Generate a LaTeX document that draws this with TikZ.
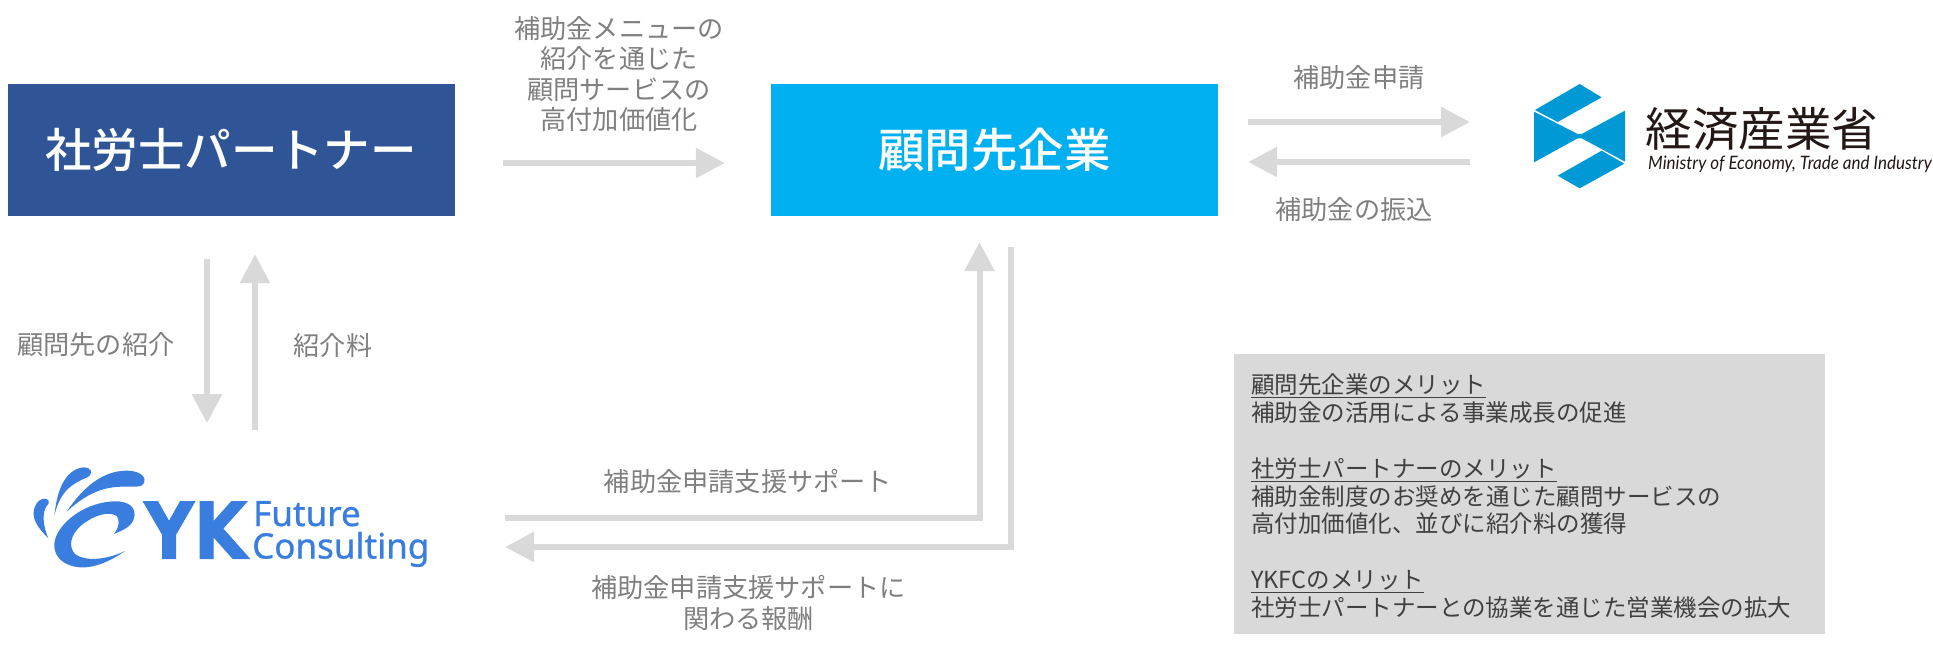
\documentclass[tikz,border=0pt]{standalone}
\usepackage{fontspec}
\setmainfont{Noto Sans CJK JP}
\newfontfamily\partyfont[UprightFont=* Medium]{Noto Sans CJK JP}
\newfontfamily\ykfont[FakeBold=.8]{Noto Sans}
\newfontfamily\ykheavy[UprightFont=* Bold,FakeBold=1.5,FakeStretch=.88]{DejaVu Sans}
\newfontfamily\metifont[FakeStretch=.92]{Lato}
\usetikzlibrary{calc,arrows.meta}
\definecolor{partnerblue}{HTML}{2F5597}
\definecolor{clientblue}{HTML}{00B0F0}
\definecolor{flowgray}{HTML}{D9D9D9}
\definecolor{labelgray}{HTML}{7F7F7F}
\definecolor{ykblue}{HTML}{397DDE}
\definecolor{metiblue}{HTML}{0099D6}
\definecolor{metiblack}{HTML}{231815}
\tikzstyle{party}=[rectangle, minimum width=447pt, minimum height=132pt, inner sep=0pt, text=white, font=\partyfont\fontsize{46.5}{50}\selectfont]
\tikzstyle{note}=[text=labelgray, align=center, inner sep=0pt, font=\fontsize{26.2}{30.5}\selectfont]
\tikzstyle{flow}=[draw=flowgray, line width=6pt, -{Triangle[length=29pt,width=29pt]}]
\tikzstyle{meritbox}=[rectangle, fill=flowgray, minimum width=591pt, minimum height=280pt, inner sep=0pt, anchor=north west]
\tikzstyle{merit}=[text=black!75, inner sep=0pt, text width=557pt, align=left, anchor=west, font=\fontsize{23.5}{27.8}\selectfont]
\newcommand{\headline}[1]{\leavevmode\setbox0\hbox{#1}\rlap{\rule[-4.5pt]{\wd0}{1.3pt}}\box0}
\begin{document}
\begin{tikzpicture}[x=1pt,y=-1pt]
    \useasboundingbox (0,0) rectangle (1933,652);
    \node[party, fill=partnerblue] (partner) at (231,150) {社労士パートナー};
    \node[party, fill=clientblue] (client) at (994.5,150) {顧問先企業};
    \coordinate (metiport) at (1470,142);
    \coordinate (ykport) at (505,532);
    \node[note] (upgrade) at (619,74) {補助金メニューの\\紹介を通じた\\顧問サービスの\\高付加価値化};
    \node[note] (apply) at (1359,78) {補助金申請};
    \node[note] (payment) at (1354,210) {補助金の振込};
    \node[note] (refer) at (96,345) {顧問先の紹介};
    \node[note] (fee) at (333,346) {紹介料};
    \node[note] (support) at (748,481) {補助金申請支援サポート};
    \node[note] (reward) at (748.5,603) {補助金申請支援サポートに\\関わる報酬};
    \draw[flow] ($(partner.east)+(48,13)$) -- ($(client.west)+(-46,13)$);
    \draw[flow] ($(client.east)+(30,-28)$) -- ($(metiport)+(0,-20)$);
    \draw[flow] ($(metiport)+(0,20)$) -- ($(client.east)+(30,12)$);
    \draw[flow] ($(partner.south)+(-24,43)$) -- ($(partner.south)+(-24,207)$);
    \draw[flow] ($(partner.south)+(24,214)$) -- ($(partner.south)+(24,38)$);
    \draw[flow] ($(ykport)+(0,-14)$) -| ($(client.south)+(-15,26)$);
    \draw[flow] ($(client.south)+(16,31)$) |- ($(ykport)+(0,15)$);
    \node[meritbox] (benefit) at (1234,354) {};
    \node[merit] (benefits) at ($(benefit.west)+(17,2)$) {\headline{顧問先企業のメリット}\\補助金の活用による事業成長の促進\\[27.8pt]\headline{社労士パートナーのメリット}\\補助金制度のお奨めを通じた顧問サービスの\\高付加価値化、並びに紹介料の獲得\\[27.8pt]\headline{YKFCのメリット}\\社労士パートナーとの協業を通じた営業機会の拡大};
    % meti mark
    \begin{scope}[shift={(1480,60)},scale=1/3]
        \fill[metiblue] (165,150) -- (299,72) -- (365,112) -- (233,186) -- cycle;
        \fill[metiblue] (162,155) -- (293,222) -- (305,222) -- (435,152) -- (435,305) -- (305,235) -- (293,235) -- (162,307) -- cycle;
        \fill[metiblue] (233,347) -- (365,272) -- (433,311) -- (299,385) -- cycle;
    \end{scope}
    \node[inner sep=0pt, text=metiblack, font=\fontsize{46.5}{50}\selectfont] (meti) at (1762,129) {経済産業省};
    \node[inner sep=0pt, text=metiblack, font=\metifont\itshape\fontsize{18.5}{22}\selectfont] (metien) at (1790,164) {Ministry of Economy, Trade and Industry};
    % yk mark
    \begin{scope}[shift={(0,380)},scale=1/3]
        \fill[ykblue] (145,475) .. controls (110,440) and (95,415) .. (103,385) .. controls (108,365) and (125,352) .. (140,357) .. controls (150,362) and (147,372) .. (140,378) .. controls (125,400) and (130,440) .. (145,475) -- cycle;
        \fill[ykblue] (163,408) .. controls (170,340) and (190,270) .. (250,262) .. controls (275,262) and (282,280) .. (262,292) .. controls (220,310) and (180,330) .. (163,408) -- cycle;
        \fill[ykblue] (200,395) .. controls (250,320) and (310,272) .. (380,272) .. controls (425,272) and (442,295) .. (430,312) .. controls (425,322) and (400,320) .. (370,320) .. controls (310,320) and (260,340) .. (200,395) -- cycle;
        \fill[ykblue] (342,462) .. controls (358,440) and (360,420) .. (350,408) .. controls (330,395) and (290,400) .. (245,435) .. controls (210,465) and (205,500) .. (225,522) .. controls (255,545) and (320,540) .. (375,513) .. controls (330,545) and (280,565) .. (240,562) .. controls (190,558) and (160,530) .. (163,490) .. controls (168,440) and (240,370) .. (340,364) .. controls (390,362) and (410,385) .. (402,415) .. controls (395,440) and (370,450) .. (342,462) -- cycle;
    \end{scope}
    \node[inner sep=0pt, anchor=base west, text=ykblue, font=\ykheavy\fontsize{78}{78}\selectfont] (ykmark) at (144,558.5) {YK};
    \node[inner sep=0pt, anchor=base west, text=ykblue, font=\ykfont\fontsize{35}{35}\selectfont] (future) at (253,526) {Future};
    \node[inner sep=0pt, anchor=base west, text=ykblue, font=\ykfont\fontsize{35}{35}\selectfont] (consulting) at (252,558.5) {Consulting};
\end{tikzpicture}
\end{document}
